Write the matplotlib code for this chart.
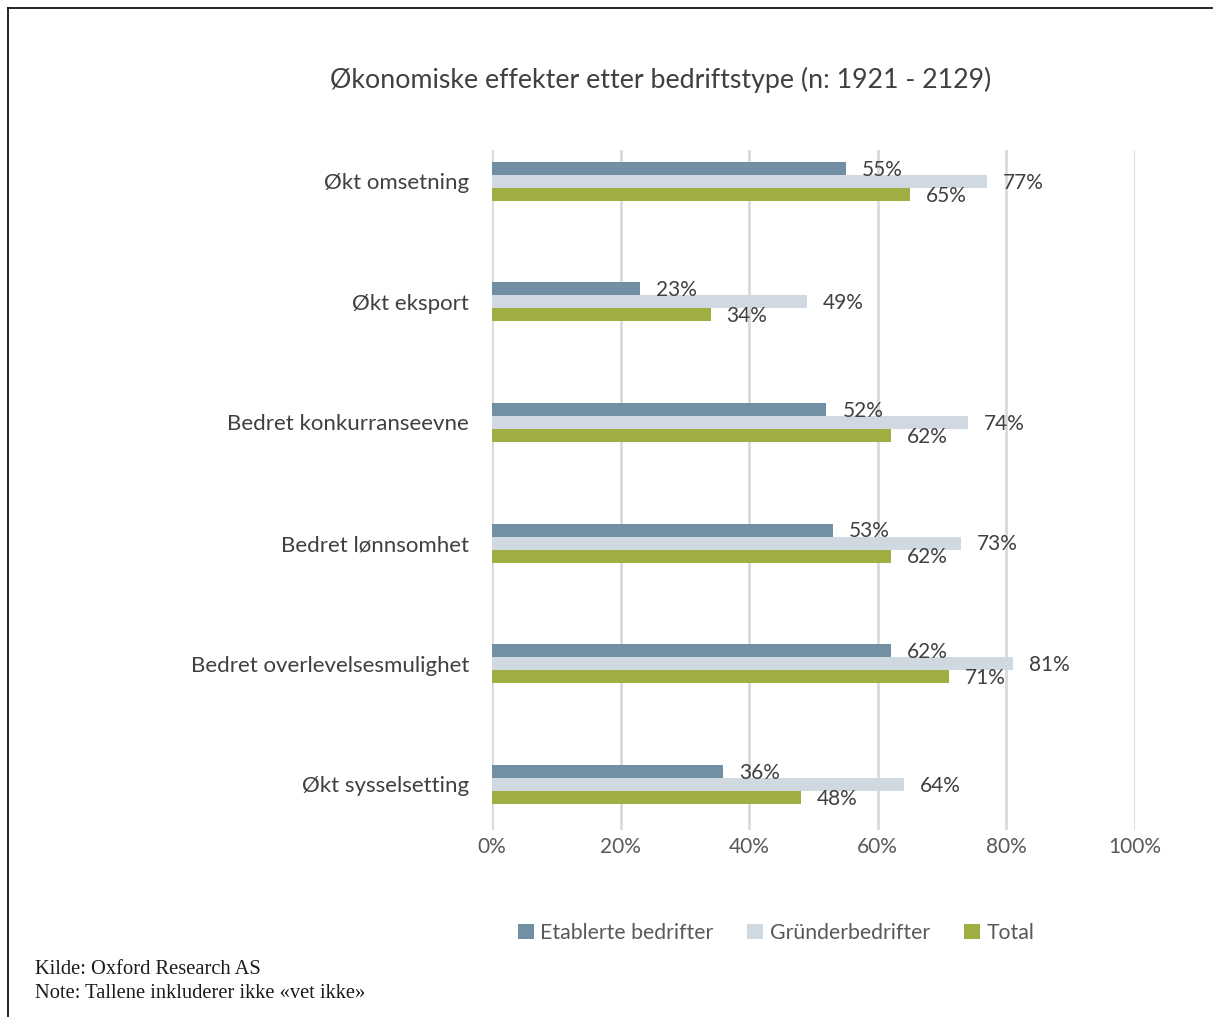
import numpy as np
import matplotlib
matplotlib.use('Agg')
import matplotlib.pyplot as plt
from matplotlib.lines import Line2D

# Data
categories = ['Økt omsetning', 'Økt eksport', 'Bedret konkurranseevne',
              'Bedret lønnsomhet', 'Bedret overlevelsesmulighet', 'Økt sysselsetting']
etablerte = [55, 23, 52, 53, 62, 36]
grunder = [77, 49, 74, 73, 81, 64]
total = [65, 34, 62, 62, 71, 48]
series_names = ['Etablerte bedrifter', 'Gründerbedrifter', 'Total']
colors = ['#7290a4', '#d0d9e1', '#a0ae42']
x_ticks = [0, 20, 40, 60, 80, 100]

plt.rcParams['font.family'] = ['Lato', 'DejaVu Sans']
text_col = '#404040'
tick_col = '#595959'

fig = plt.figure(figsize=(12.13, 10.17), dpi=100)
ax = fig.add_axes([0.4056, 0.1839, 0.5301, 0.6686])

y = np.arange(len(categories))
h = 0.108
for i, (vals, name, c) in enumerate(zip([etablerte, grunder, total], series_names, colors)):
    pos = y + (i - 1) * h
    ax.barh(pos, vals, height=h, color=c, label=name, zorder=3)
    for p, v in zip(pos, vals):
        ax.annotate(f'{v}%', (v, p), xytext=(11.5, -1), textcoords='offset points',
                    ha='left', va='center', fontsize=15, color=text_col, zorder=4)

ax.set_xlim(0, 100)
ax.set_ylim(5.38, -0.26)
ax.set_xticks(x_ticks)
ax.set_xticklabels([f'{t}%' for t in x_ticks], fontsize=15, color=tick_col)
ax.set_yticks(y)
ax.set_yticklabels(categories, fontsize=16, color=text_col)
ax.tick_params(axis='both', length=0)
ax.tick_params(axis='x', pad=5)
ax.tick_params(axis='y', pad=16.5)
ax.grid(axis='x', color='#d9d9d9', linewidth=2, zorder=0)
for s in ax.spines.values():
    s.set_visible(False)

fig.text(0.545, 0.921, 'Økonomiske effekter etter bedriftstype (n: 1921 - 2129)',
         ha='center', va='center', fontsize=19.3, color=text_col)

ax.legend(loc='center', bbox_to_anchor=(776 / 1213, 1 - 933 / 1017),
          bbox_transform=fig.transFigure, ncol=3, frameon=False, fontsize=15.3,
          handlelength=0.75, handleheight=0.75, handletextpad=0.3, columnspacing=1.6,
          labelcolor=tick_col)

fig.text(35 / 1213, 1 - 969 / 1017, 'Kilde: Oxford Research AS', fontsize=14.8,
         family='Liberation Serif', va='center', color='#1a1a1a')
fig.text(35 / 1213, 1 - 994 / 1017, 'Note: Tallene inkluderer ikke «vet ikke»', fontsize=14.8,
         family='Liberation Serif', va='center', color='#1a1a1a')

# frame lines (top and left)
fig.add_artist(Line2D([8 / 1213, 1], [1 - 8 / 1017, 1 - 8 / 1017], color='black', lw=1.2))
fig.add_artist(Line2D([8 / 1213, 8 / 1213], [0, 1 - 8 / 1017], color='black', lw=1.2))

fig.savefig('out.png', dpi=100, facecolor='white')
